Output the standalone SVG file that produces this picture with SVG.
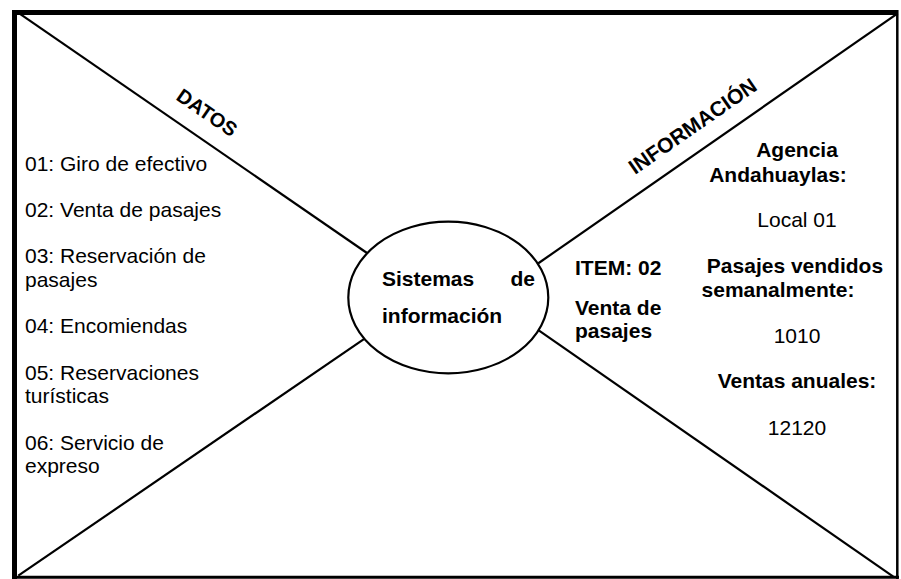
<svg xmlns="http://www.w3.org/2000/svg" width="901" height="579" viewBox="0 0 901 579">
<style>
.ln{stroke:#000;stroke-width:2.2;fill:none}
.t{font-family:"Liberation Sans",Arial,sans-serif;font-size:21px;fill:#000}
.b{font-weight:bold}
.c{text-anchor:middle}
</style>
<rect width="901" height="579" fill="#fff"/>
<g id="frame">
<rect x="12" y="10" width="886" height="5" fill="#000"/>
<rect x="12" y="10" width="5" height="569" fill="#000"/>
<line x1="897.3" y1="10" x2="897.3" y2="579" stroke="#000" stroke-width="2.5"/>
<line x1="12" y1="577.3" x2="899" y2="577.3" stroke="#000" stroke-width="3"/>
</g>
<g id="connectors">
<line class="ln" x1="16.7" y1="11.7" x2="367" y2="253"/>
<line class="ln" x1="897.7" y1="13.3" x2="538" y2="263.5"/>
<line class="ln" x1="18.3" y1="575.7" x2="365" y2="338.3"/>
<line class="ln" x1="893.3" y1="576.7" x2="538" y2="329.8"/>
</g>
<g id="labels">
<text class="t b" transform="translate(175,99) rotate(34.56)" style="font-size:20px">DATOS</text>
<text class="t b" transform="translate(635,175) rotate(-34.84)" style="font-size:21px">INFORMACIÓN</text>
</g>
<g id="center">
<ellipse cx="448.3" cy="297.5" rx="100" ry="75.8" fill="#fff" stroke="#000" stroke-width="2.2"/>
<text class="t b" x="382" y="286">Sistemas</text>
<text class="t b" x="535" y="286" text-anchor="end">de</text>
<text class="t b" x="382" y="322.5">información</text>
</g>
<g id="datos">
<text class="t" x="25" y="171">01: Giro de efectivo</text>
<text class="t" x="25" y="217">02: Venta de pasajes</text>
<text class="t" x="25" y="263">03: Reservación de</text>
<text class="t" x="25" y="287">pasajes</text>
<text class="t" x="25" y="333">04: Encomiendas</text>
<text class="t" x="25" y="380">05: Reservaciones</text>
<text class="t" x="25" y="403">turísticas</text>
<text class="t" x="25" y="450">06: Servicio de</text>
<text class="t" x="25" y="473">expreso</text>
</g>
<g id="item">
<text class="t b" x="575" y="275">ITEM: 02</text>
<text class="t b" x="575" y="315">Venta de</text>
<text class="t b" x="575" y="338">pasajes</text>
</g>
<g id="informacion">
<text class="t b c" x="797" y="157">Agencia</text>
<text class="t b c" x="778" y="182">Andahuaylas:</text>
<text class="t c" x="797" y="227">Local 01</text>
<text class="t b c" x="795" y="273">Pasajes vendidos</text>
<text class="t b c" x="778" y="297">semanalmente:</text>
<text class="t c" x="797" y="343">1010</text>
<text class="t b c" x="797" y="388">Ventas anuales:</text>
<text class="t c" x="797" y="435">12120</text>
</g>
</svg>
